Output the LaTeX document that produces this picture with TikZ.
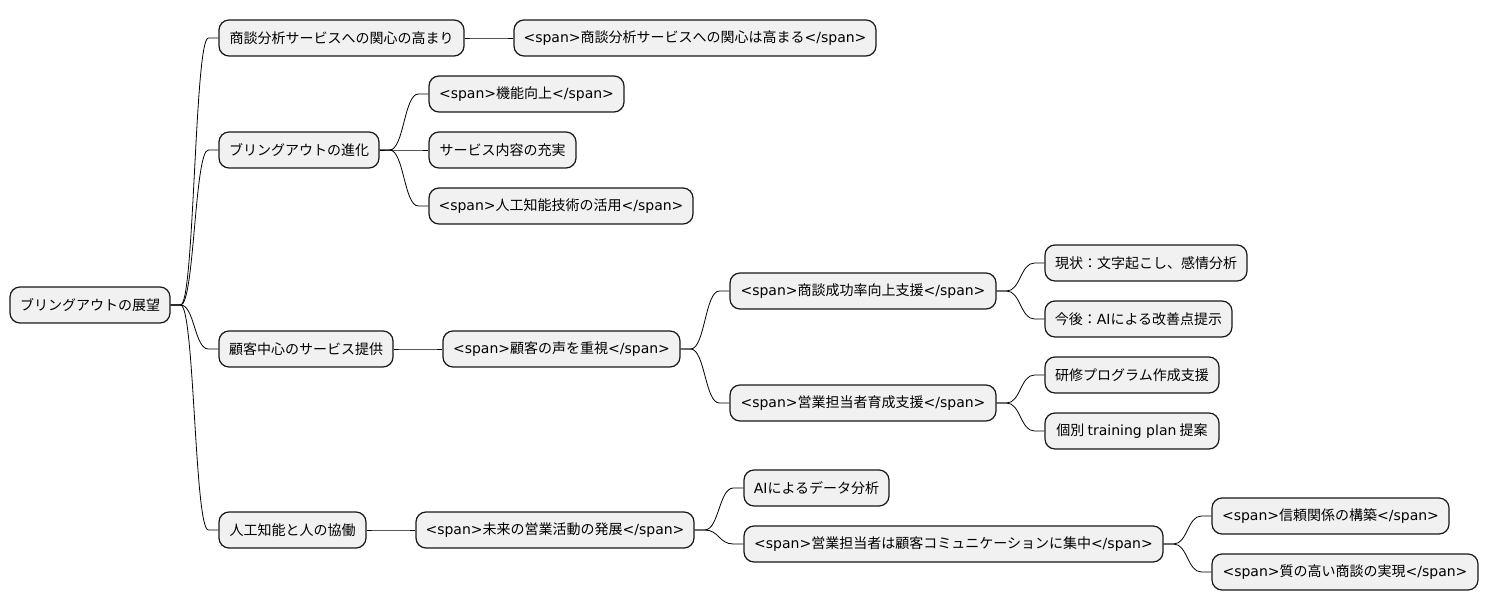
\documentclass[tikz,border=0pt]{standalone}
\usepackage{fontspec}
\setmainfont{Noto Sans CJK JP}
\newfontfamily\latfont{DejaVu Sans}
\newcommand\latn[1]{{\latfont #1}}
\usetikzlibrary{calc}
\definecolor{boxfill}{HTML}{F1F1F1}
\definecolor{boxline}{HTML}{181818}
\tikzset{
  mm/.style={draw=boxline, fill=boxfill, line width=1.2pt, rounded corners=10pt,
    minimum height=36pt, inner xsep=0pt, inner ysep=0pt, text=black,
    font=\fontsize{14}{16}\selectfont, anchor=center},
  conn/.style={draw=black, line width=0.8pt}
}
\newcommand\mmlink[2]{%
  \path (#1.east) ++(10,0) coordinate (s) (#2.west) ++(-10,0) coordinate (e);
  \path ($(s)!0.5!(e)$) coordinate (m);
  \draw[conn] (#1.east) -- (s) .. controls (m |- s) and (m |- e) .. (e) -- (#2.west);
}
\begin{document}
\begin{tikzpicture}[x=1pt,y=-1pt]
\useasboundingbox (0,0) rectangle (1489,612);
\node[mm, minimum width=160pt] (root) at (90,305) {ブリングアウトの展望};
\node[mm, minimum width=245pt] (n1) at (341.5,38) {商談分析サービスへの関心の高まり};
\node[mm, minimum width=362pt] (n1a) at (695,38) {\latn{<span>}商談分析サービスへの関心は高まる\latn{</span>}};
\node[mm, minimum width=160pt] (n2) at (299,150) {ブリングアウトの進化};
\node[mm, minimum width=195pt] (n2a) at (526.5,94) {\latn{<span>}機能向上\latn{</span>}};
\node[mm, minimum width=147pt] (n2b) at (502.5,150) {サービス内容の充実};
\node[mm, minimum width=264pt] (n2c) at (561,206) {\latn{<span>}人工知能技術の活用\latn{</span>}};
\node[mm, minimum width=174pt] (n3) at (306,349) {顧客中心のサービス提供};
\node[mm, minimum width=237pt] (n3a) at (561.5,349) {\latn{<span>}顧客の声を重視\latn{</span>}};
\node[mm, minimum width=266pt] (n3a1) at (863,291) {\latn{<span>}商談成功率向上支援\latn{</span>}};
\node[mm, minimum width=266pt] (n3a2) at (863,403) {\latn{<span>}営業担当者育成支援\latn{</span>}};
\node[mm, minimum width=202pt] (n3a1a) at (1146,263) {現状：文字起こし、感情分析};
\node[mm, minimum width=187pt] (n3a1b) at (1138.5,319) {今後：\latn{AI}による改善点提示};
\node[mm, minimum width=174pt] (n3a2a) at (1132,375) {研修プログラム作成支援};
\node[mm, minimum width=174pt] (n3a2b) at (1132,431) {個別 \latn{training plan} 提案};
\node[mm, minimum width=147pt] (n4) at (292.5,530) {人工知能と人の協働};
\node[mm, minimum width=278pt] (n4a) at (555,530) {\latn{<span>}未来の営業活動の発展\latn{</span>}};
\node[mm, minimum width=145pt] (n4a1) at (816.5,488) {\latn{AI}によるデータ分析};
\node[mm, minimum width=419pt] (n4a2) at (953.5,544) {\latn{<span>}営業担当者は顧客コミュニケーションに集中\latn{</span>}};
\node[mm, minimum width=237pt] (n4a2a) at (1330.5,516) {\latn{<span>}信頼関係の構築\latn{</span>}};
\node[mm, minimum width=266pt] (n4a2b) at (1345,572) {\latn{<span>}質の高い商談の実現\latn{</span>}};
\mmlink{root}{n1}
\mmlink{root}{n2}
\mmlink{root}{n3}
\mmlink{root}{n4}
\mmlink{n1}{n1a}
\mmlink{n2}{n2a}
\mmlink{n2}{n2b}
\mmlink{n2}{n2c}
\mmlink{n3}{n3a}
\mmlink{n3a}{n3a1}
\mmlink{n3a}{n3a2}
\mmlink{n3a1}{n3a1a}
\mmlink{n3a1}{n3a1b}
\mmlink{n3a2}{n3a2a}
\mmlink{n3a2}{n3a2b}
\mmlink{n4}{n4a}
\mmlink{n4a}{n4a1}
\mmlink{n4a}{n4a2}
\mmlink{n4a2}{n4a2a}
\mmlink{n4a2}{n4a2b}
\end{tikzpicture}
\end{document}
